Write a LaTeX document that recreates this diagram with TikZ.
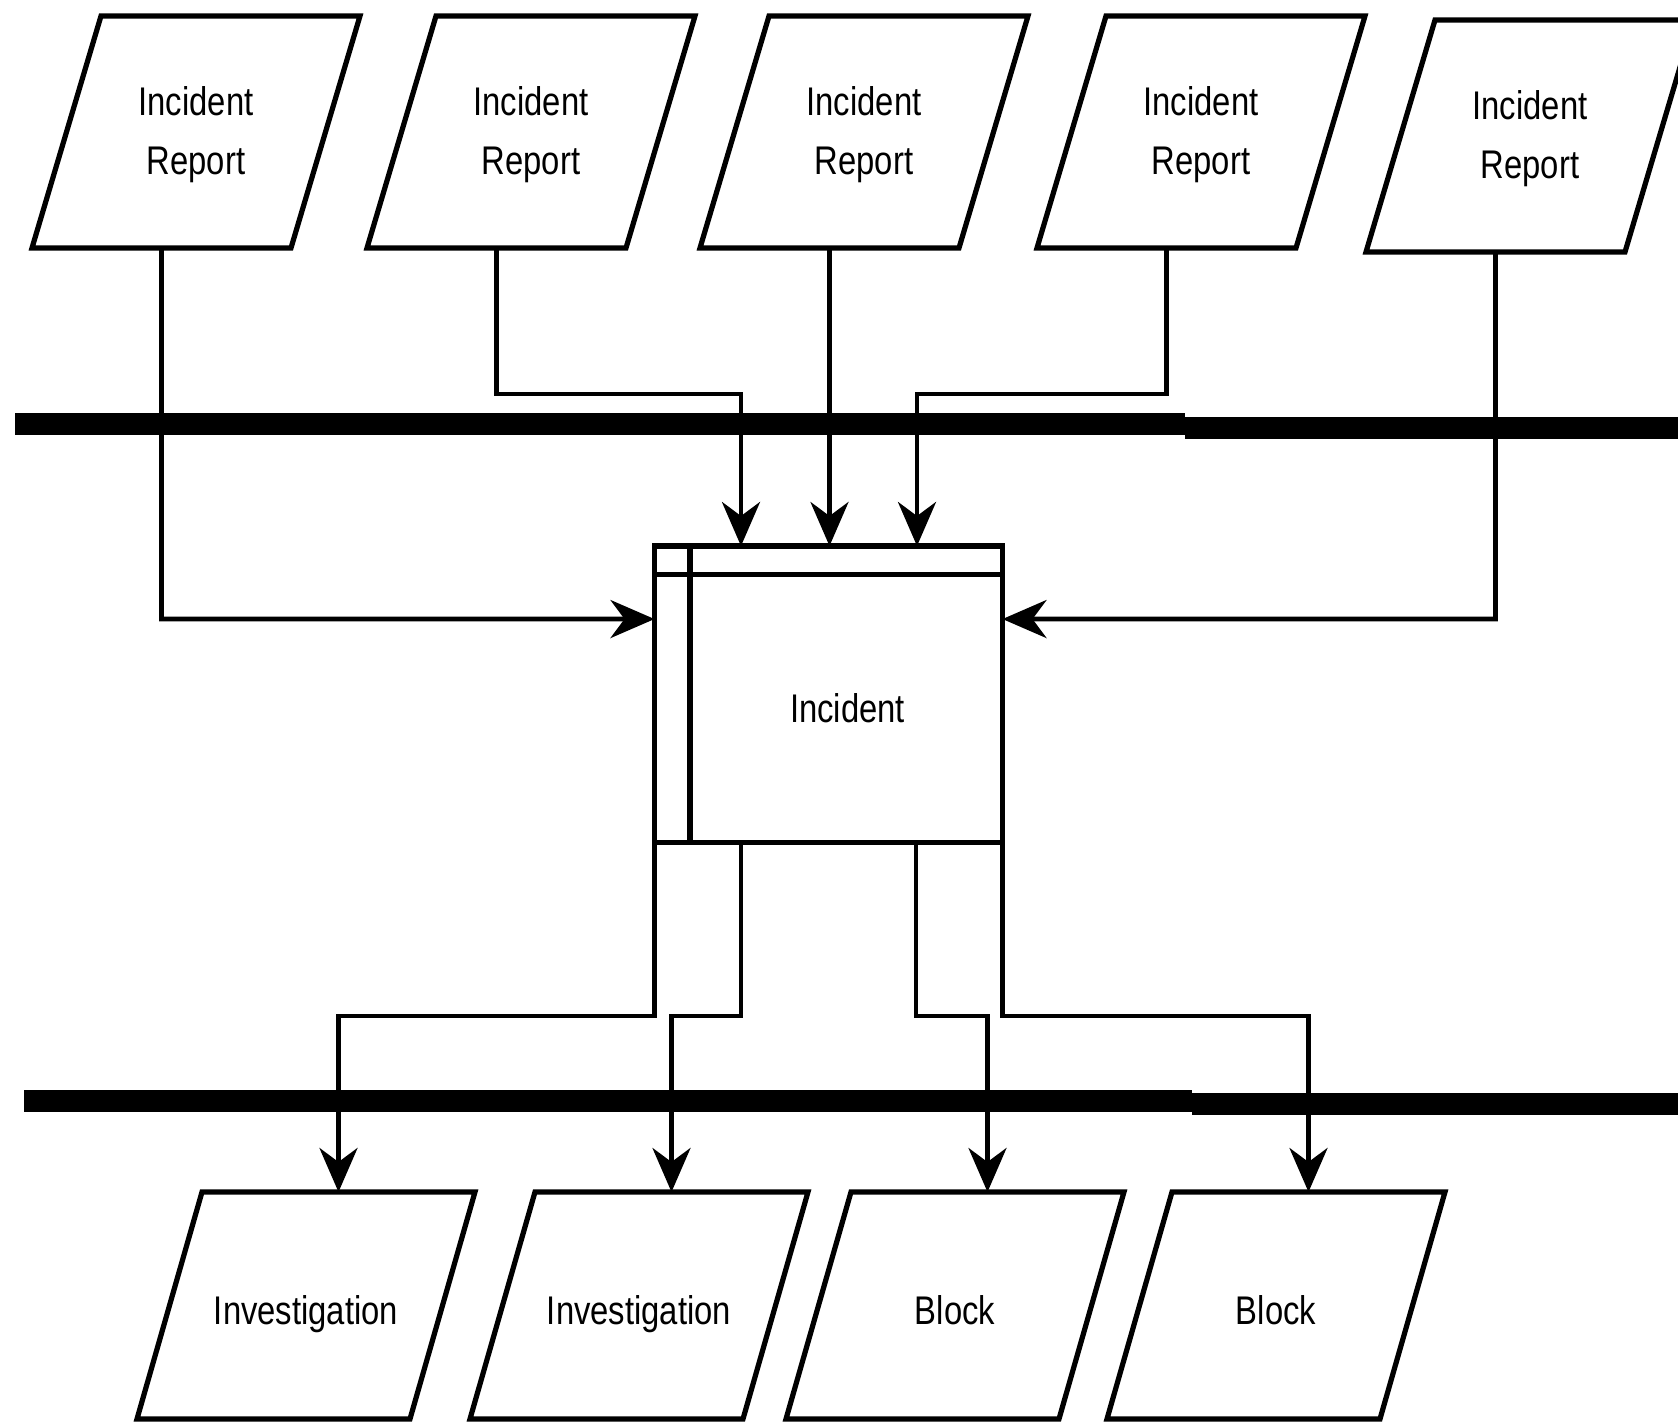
\documentclass[tikz,border=0pt]{standalone}
\usepackage{fontspec}
\setmainfont{Liberation Sans}[FakeStretch=0.82]
\usetikzlibrary{arrows.meta}
\begin{document}
\begin{tikzpicture}[x=0.5pt,y=-0.5pt,
  shapeline/.style={line width=2.6pt, line join=miter},
  conn/.style={line width=2.3pt},
  arr/.style={conn, -{Stealth[length=22pt,width=19pt,inset=7pt]}},
  bar/.style={line width=11pt},
  lbl/.style={inner sep=0pt, font=\fontsize{20}{29.5}\selectfont, align=center},
]
\fill[white] (0,0) rectangle (1678,1423);
\useasboundingbox (0,0) rectangle (1678,1423);

% top row: Incident Report
\foreach \n/\bx/\dy in {r1/32/0, r2/367/0, r3/700/0, r4/1037/0, r5/1366/4}{
  \draw[shapeline] (\bx,248+\dy) -- ++(259,0) -- ++(69,-232) -- ++(-259,0) -- cycle;
  \coordinate (\n b) at (\bx+129.5,248+\dy);
  \node[lbl] (\n) at (\bx+164,134.6+\dy) {Incident\\Report};
}

% central box
\node[draw, shapeline, minimum width=174pt, minimum height=148.25pt, inner sep=0pt, outer sep=0pt] (box) at (828.5,694.25) {};
\draw[shapeline] (654.5,574.5) -- (1002.5,574.5);
\draw[shapeline] (690,546) -- (690,842.5);
\node[lbl, anchor=base] (inc) at (847.5,722) {Incident};

% bottom row
\foreach \n/\tx/\t in {b1/202/Investigation, b2/535/Investigation, b3/851/Block, b4/1172/Block}{
  \draw[shapeline] (\tx,1192) -- ++(273,0) -- ++(-65,227) -- ++(-273,0) -- cycle;
  \coordinate (\n t) at (\tx+136.5,1192);
  \node[lbl, anchor=base] (\n) at (\tx+104,1324) {\t};
}

% connectors into box
\draw[arr] (r1b) -- (r1b |- 0,619) -- ([yshift=37.6pt]box.west);
\draw[arr] (r5b) -- (r5b |- 0,619) -- ([yshift=37.6pt]box.east);
\draw[arr] (r2b) -- (r2b |- 0,394) -- (741,394) -- (box.north -| 741,0);
\draw[arr] (r3b) -- (box.north -| r3b);
\draw[arr] (r4b) -- (r4b |- 0,394) -- (917,394) -- (box.north -| 917,0);

% connectors out of box
\draw[arr] (box.south west) -- (box.south west |- 0,1016) -- (b1t |- 0,1016) -- (b1t);
\draw[arr] (box.south -| 741,0) -- (741,1016) -- (b2t |- 0,1016) -- (b2t);
\draw[arr] (box.south -| 916,0) -- (916,1016) -- (b3t |- 0,1016) -- (b3t);
\draw[arr] (box.south east) -- (box.south east |- 0,1016) -- (b4t |- 0,1016) -- (b4t);

% thick bars
\draw[bar] (15,424) -- (1185,424);
\draw[bar] (1185,428) -- (1678,428);
\draw[bar] (24,1100.5) -- (1192,1100.5);
\draw[bar] (1192,1104) -- (1678,1104);
\end{tikzpicture}
\end{document}
